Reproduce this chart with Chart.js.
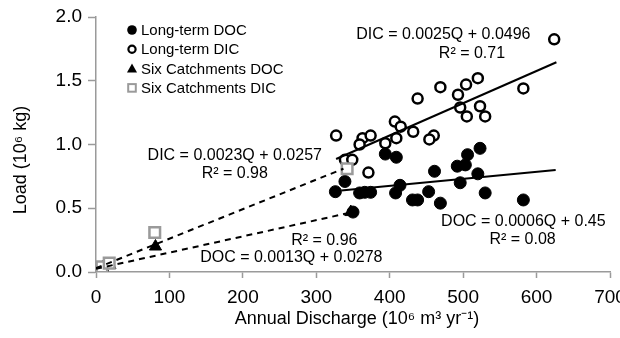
<!DOCTYPE html>
<html>
<head>
<meta charset="utf-8">
<script src="https://cdn.jsdelivr.net/npm/chart.js@4.4.0/dist/chart.umd.min.js"></script>
<style>
  html, body { margin:0; padding:0; background:#fff; }
  #wrap { width:620px; height:338px; }
</style>
</head>
<body>
<div id="wrap"><canvas id="chart" width="620" height="338"></canvas></div>
<script>
// --- Data: Q in 10^6 m3/yr, load in 10^6 kg ---
const ltDocQ    = [326, 339, 359, 366, 374, 394, 409, 408, 414, 431, 438, 453, 461, 469, 492, 506, 503, 523, 520, 496, 530, 582, 350];
const ltDocLoad = [0.63, 0.71, 0.62, 0.625, 0.625, 0.925, 0.90, 0.62, 0.68, 0.565, 0.565, 0.63, 0.79, 0.54, 0.83, 0.92, 0.84, 0.97, 0.77, 0.70, 0.62, 0.565, 0.47];

const ltDicQ    = [624, 582, 520, 504, 493, 469, 438, 496, 505, 523, 530, 407, 415, 432, 409, 394, 460, 454, 327, 363, 374, 359, 339, 349, 371];
const ltDicLoad = [1.825, 1.44, 1.52, 1.47, 1.39, 1.45, 1.36, 1.29, 1.22, 1.30, 1.22, 1.18, 1.14, 1.10, 1.05, 1.01, 1.07, 1.04, 1.07, 1.05, 1.07, 1.0, 0.88, 0.88, 0.78];

const sixDocQ    = [2, 6, 9, 19, 81, 347];
const sixDocLoad = [0.02, 0.025, 0.035, 0.055, 0.20, 0.47];
const sixDicQ    = [1, 4, 8, 18, 80, 342];
const sixDicLoad = [0.025, 0.03, 0.04, 0.07, 0.31, 0.81];

// trend lines (end points)
const ltDicTrendQ = [327, 627],  ltDicTrendLoad = [0.886, 1.645];
const ltDocTrendQ = [334, 626],  ltDocTrendLoad = [0.64, 0.80];
const sixDicTrendQ = [0, 337],   sixDicTrendLoad = [0.03, 0.81];
const sixDocTrendQ = [0, 342],   sixDocTrendLoad = [0.025, 0.46];

const xTicks = [0, 100, 200, 300, 400, 500, 600, 700];
const yTicks = [0, 0.5, 1.0, 1.5, 2.0];

const seriesNames = ['Long-term DOC', 'Long-term DIC', 'Six Catchments DOC', 'Six Catchments DIC'];

// equation labels, anchored in data units
const notes = [
  { text: 'DIC = 0.0025Q + 0.0496', q: 473, load: 1.86 },
  { text: 'R\u00B2 = 0.71',          q: 512, load: 1.715 },
  { text: 'DIC = 0.0023Q + 0.0257', q: 189, load: 0.91 },
  { text: 'R\u00B2 = 0.98',          q: 189, load: 0.77 },
  { text: 'R\u00B2 = 0.96',          q: 311, load: 0.25 },
  { text: 'DOC = 0.0013Q + 0.0278', q: 266, load: 0.115 },
  { text: 'DOC = 0.0006Q + 0.45',   q: 582, load: 0.395 },
  { text: 'R\u00B2 = 0.08',          q: 581, load: 0.256 }
];

const FONT = "'Liberation Sans', Arial, sans-serif";
const AXIS_GREY = '#9a9a9a';

function pts(xs, ys) { return xs.map((x, i) => ({ x: x, y: ys[i] })); }

function trend(xs, ys, dashed) {
  return {
    type: 'line', data: pts(xs, ys), borderColor: '#000', borderWidth: 2,
    borderDash: dashed ? [6, 5] : [], pointRadius: 0, fill: false, order: 0
  };
}

// legend, titles and equation labels drawn on the canvas
const extras = {
  id: 'extras',
  afterDraw(chart) {
    const ctx = chart.ctx, xs = chart.scales.x, ys = chart.scales.y;
    ctx.save();
    ctx.fillStyle = '#000';
    ctx.textBaseline = 'middle';

    ctx.font = '16px ' + FONT;
    ctx.textAlign = 'center';
    notes.forEach(n => ctx.fillText(n.text, xs.getPixelForValue(n.q), ys.getPixelForValue(n.load)));

    // legend
    ctx.font = '15px ' + FONT;
    ctx.textAlign = 'left';
    const lx = 132, ly = 30, gap = 19.3;
    seriesNames.forEach((name, i) => {
      const y = ly + i * gap;
      ctx.lineWidth = 2;
      if (i === 0) { ctx.beginPath(); ctx.arc(lx, y, 4.8, 0, Math.PI * 2); ctx.fill(); }
      if (i === 1) { ctx.beginPath(); ctx.arc(lx, y, 3.6, 0, Math.PI * 2); ctx.strokeStyle = '#000'; ctx.lineWidth = 2.2; ctx.stroke(); }
      if (i === 2) { ctx.beginPath(); ctx.moveTo(lx, y - 5); ctx.lineTo(lx + 5, y + 4); ctx.lineTo(lx - 5, y + 4); ctx.closePath(); ctx.fill(); }
      if (i === 3) { ctx.strokeStyle = AXIS_GREY; ctx.lineWidth = 2; ctx.strokeRect(lx - 3.8, y - 3.8, 7.6, 7.6); }
      ctx.fillText(name, 141, y + 1);
    });

    // axis titles
    ctx.font = '18px ' + FONT;
    ctx.textAlign = 'center';
    ctx.fillText('Annual Discharge (10\u2076 m\u00B3 yr\u207B\u00B9)', 357, 319);
    ctx.translate(21, 160);
    ctx.rotate(-Math.PI / 2);
    ctx.fillText('Load (10\u2076 kg)', 0, 0);
    ctx.restore();
  }
};

new Chart(document.getElementById('chart'), {
  type: 'scatter',
  data: {
    datasets: [
      trend(ltDicTrendQ, ltDicTrendLoad, false),
      trend(ltDocTrendQ, ltDocTrendLoad, false),
      trend(sixDicTrendQ, sixDicTrendLoad, true),
      trend(sixDocTrendQ, sixDocTrendLoad, true),
      { label: seriesNames[3], data: pts(sixDicQ, sixDicLoad), pointStyle: 'rect', pointRadius: 7.5,
        backgroundColor: '#fff', borderColor: AXIS_GREY, borderWidth: 2.5, order: 1 },
      { label: seriesNames[2], data: pts(sixDocQ, sixDocLoad), pointStyle: 'triangle', pointRadius: 7,
        backgroundColor: '#000', borderColor: '#000', borderWidth: 1, order: 2 },
      { label: seriesNames[1], data: pts(ltDicQ, ltDicLoad), pointStyle: 'circle', pointRadius: 5,
        backgroundColor: '#fff', borderColor: '#000', borderWidth: 2.5, order: 3 },
      { label: seriesNames[0], data: pts(ltDocQ, ltDocLoad), pointStyle: 'circle', pointRadius: 6,
        backgroundColor: '#000', borderColor: '#000', borderWidth: 1, order: 4 }
    ]
  },
  options: {
    responsive: false,
    devicePixelRatio: 1,
    animation: false,
    layout: { padding: { top: 17, right: 7, left: 0, bottom: 0 } },
    plugins: { legend: { display: false }, tooltip: { enabled: false } },
    scales: {
      x: {
        type: 'linear', min: xTicks[0], max: xTicks[xTicks.length - 1],
        afterBuildTicks: s => { s.ticks = xTicks.map(v => ({ value: v })); },
        afterFit: s => { s.height = 66; s.paddingLeft = 0; s.paddingRight = 0; },
        grid: { drawOnChartArea: false, tickLength: 6, tickColor: AXIS_GREY, tickWidth: 1.5 },
        border: { color: AXIS_GREY, width: 1.5 },
        ticks: { color: '#000', padding: 8, maxRotation: 0, font: { family: FONT, size: 19 } }
      },
      y: {
        type: 'linear', min: yTicks[0], max: yTicks[yTicks.length - 1],
        afterBuildTicks: s => { s.ticks = yTicks.map(v => ({ value: v })); },
        afterFit: s => { s.width = 96; s.paddingTop = 0; s.paddingBottom = 0; },
        grid: { drawOnChartArea: false, tickLength: 8, tickColor: AXIS_GREY, tickWidth: 1.5 },
        border: { color: AXIS_GREY, width: 1.5 },
        ticks: { color: '#000', padding: 6, callback: v => v.toFixed(1), font: { family: FONT, size: 19 } }
      }
    }
  },
  plugins: [extras]
});
</script>
</body>
</html>
